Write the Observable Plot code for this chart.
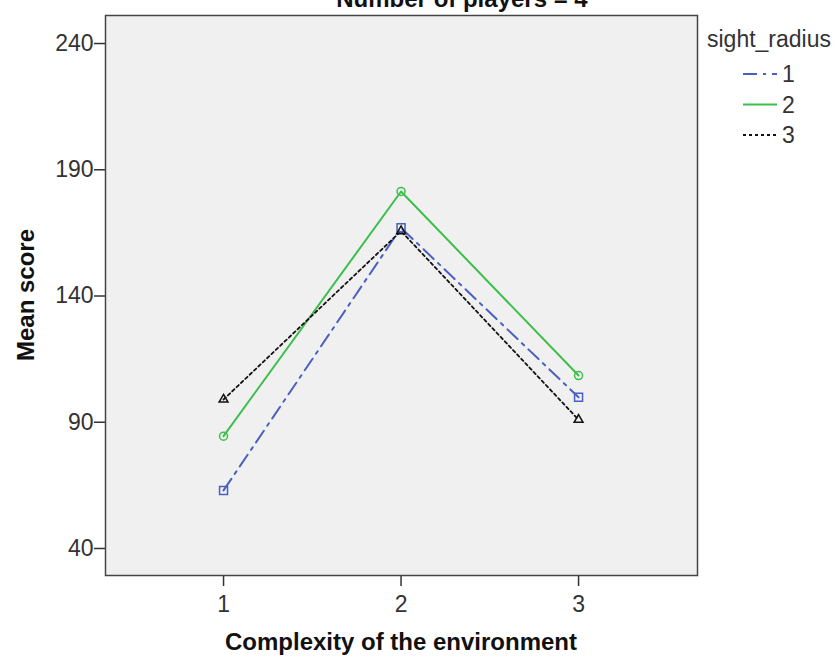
<!DOCTYPE html>
<html><head><meta charset="utf-8">
<script src="https://cdn.jsdelivr.net/npm/d3@7"></script>
<script src="https://cdn.jsdelivr.net/npm/@observablehq/plot@0.6"></script>
<style>body{margin:0;background:#fff;} svg{display:block}</style>
</head><body><div id="chart"></div>
<script>
// Data
const complexity = [1, 2, 3];
const sightRadius = ["1", "2", "3"];
const meanRadius1 = [63.0, 167.0, 99.9];
const meanRadius2 = [84.5, 181.4, 108.5];
const meanRadius3 = [99.0, 165.7, 91.0];
const yTicks = [40, 90, 140, 190, 240];
const chartTitle = "Number of players = 4";
const xTitle = "Complexity of the environment";
const yTitle = "Mean score";
const legendTitle = "sight_radius";

const seriesValues = [meanRadius1, meanRadius2, meanRadius3];
const seriesStyle = [
  {color: "#4a5fc1", dash: "14,6,3,6", symbol: "square", r: 4.5, width: 2},
  {color: "#3cbf4a", dash: null, symbol: "circle", r: 4, width: 2},
  {color: "#111111", dash: "3,3", symbol: "triangle", r: 3.3, width: 1.8}
];

const data = [];
sightRadius.forEach((s, i) => complexity.forEach((c, j) => data.push({s, x: c, y: seriesValues[i][j]})));

const font = "'Liberation Sans', Arial, sans-serif";
const lineMarks = [];
sightRadius.forEach((s, i) => {
  const st = seriesStyle[i];
  const d = data.filter(v => v.s === s);
  lineMarks.push(Plot.lineY(d, {x: "x", y: "y", stroke: st.color, strokeWidth: st.width, strokeDasharray: st.dash || undefined}));
});
sightRadius.forEach((s, i) => {
  const st = seriesStyle[i];
  const d = data.filter(v => v.s === s);
  lineMarks.push(Plot.dot(d, {x: "x", y: "y", symbol: st.symbol, r: st.r, stroke: st.color, fill: "none", strokeWidth: 1.5}));
});

const svg = Plot.plot({
  width: 840, height: 657,
  marginLeft: 105, marginRight: 143, marginTop: 15, marginBottom: 82,
  style: {fontFamily: font, fontSize: "23px", color: "#333", background: "#fff"},
  x: {type: "linear", domain: [0.335, 3.67]},
  y: {domain: [29.3, 251.1]},
  marks: [
    Plot.frame({fill: "#f0f0f0"}),
    ...lineMarks,
    Plot.axisX({ticks: complexity, tickSize: 11, tickPadding: 9, label: null, tickFormat: d => String(d), fontSize: 23, color: "#333", strokeWidth: 1.5}),
    Plot.axisY({ticks: yTicks, tickSize: 11, tickPadding: 1, label: null, fontSize: 23, color: "#333", strokeWidth: 1.5}),
    Plot.frame({stroke: "#444", strokeWidth: 1.5})
  ]
});
document.getElementById("chart").appendChild(svg);

// Titles and legend
const s = d3.select(svg);
const g = s.append("g").attr("font-family", font).attr("fill", "#111");
g.append("text").attr("x", 462).attr("y", 7).attr("text-anchor", "middle")
  .attr("font-size", 24).attr("font-weight", "bold").text(chartTitle);
g.append("text").attr("x", 401).attr("y", 650).attr("text-anchor", "middle")
  .attr("font-size", 24).attr("font-weight", "bold").text(xTitle);
g.append("text").attr("transform", "translate(34,295) rotate(-90)").attr("text-anchor", "middle")
  .attr("font-size", 24).attr("font-weight", "bold").text(yTitle);

const lg = s.append("g").attr("font-family", font).attr("fill", "#333").attr("text-anchor", "start");
lg.append("text").attr("x", 707).attr("y", 47).attr("font-size", 23).attr("text-anchor", "start").text(legendTitle);
sightRadius.forEach((name, i) => {
  const st = seriesStyle[i];
  const y = 74 + i * 30.5;
  lg.append("line").attr("x1", 743).attr("x2", 777).attr("y1", y).attr("y2", y)
    .attr("stroke", st.color).attr("stroke-width", st.width)
    .attr("stroke-dasharray", st.dash || null);
  lg.append("text").attr("x", 782).attr("y", y).attr("dy", "0.36em").attr("font-size", 23)
    .attr("text-anchor", "start").text(name);
});
</script>
</body></html>
